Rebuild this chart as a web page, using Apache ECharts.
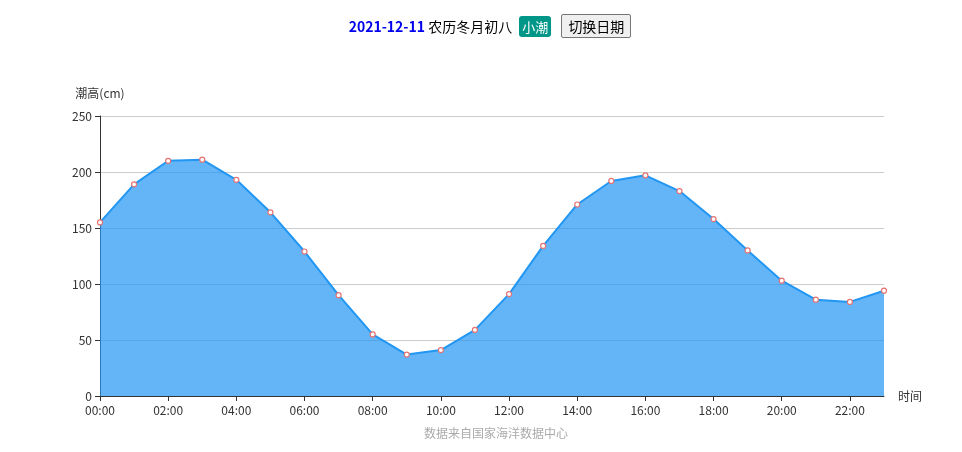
<!DOCTYPE html>
<html><head><meta charset="utf-8">
<script src="https://cdn.jsdelivr.net/npm/echarts@6/dist/echarts.min.js"></script>
<style>
html,body{margin:0;padding:0;background:#fff;}
#wrap{position:relative;width:962px;height:452px;}
#chart{position:absolute;left:0;top:0;width:962px;height:452px;}
#hdr{position:absolute;left:0;top:14px;width:980px;text-align:center;font-family:"Microsoft YaHei","Noto Sans CJK SC",sans-serif;font-size:14px;color:#000;z-index:2;line-height:22px;}
#hdr .d{color:#0000ee;font-weight:bold;}
#hdr .b{background:#009688;color:#fff;padding:1px 3px;border-radius:3px;margin-left:4px;font-size:13px;}
#hdr button{font-family:inherit;font-size:14px;margin-left:10px;padding:1px 6px;border:1px solid #767676;border-radius:2px;background:#efefef;}
</style></head>
<body><div id="wrap">
<div id="hdr"><span class="d">2021-12-11</span> 农历冬月初八 <span class="b">小潮</span><button>切换日期</button></div>
<div id="chart"></div></div>
<script>
var hours = ["00:00","01:00","02:00","03:00","04:00","05:00","06:00","07:00","08:00","09:00","10:00","11:00","12:00","13:00","14:00","15:00","16:00","17:00","18:00","19:00","20:00","21:00","22:00","23:00"];
var tide = [155,189,210,211,193,164,129,90,55,37,41,59,91,134,171,192,197,183,158,130,103,86,84,94];

var chart = echarts.init(document.getElementById('chart'));
chart.setOption({
  animation:false,
  textStyle:{fontFamily:'"Microsoft YaHei","Noto Sans CJK SC",sans-serif'},
  grid:{left:100,right:78,top:116,bottom:56},
  title:{text:'数据来自国家海洋数据中心',left:491,textAlign:'center',bottom:8,
    textStyle:{fontSize:12,color:'#aaa',fontWeight:'normal'}},
  xAxis:{type:'category',data:hours,boundaryGap:false,name:'时间',nameGap:14,
    nameTextStyle:{color:'#333',fontSize:12,verticalAlign:'middle'},
    axisLine:{lineStyle:{color:'#333'}},
    axisTick:{alignWithLabel:true,interval:1},
    axisLabel:{color:'#333',fontSize:12,interval:1,margin:8}},
  yAxis:{type:'value',min:0,max:250,interval:50,name:'潮高(cm)',
    nameTextStyle:{color:'#333',fontSize:12,align:'center',padding:[0,0,2,0]},
    axisLine:{show:true,lineStyle:{color:'#333'}},
    axisTick:{show:true},
    axisLabel:{color:'#333',fontSize:12},
    splitLine:{lineStyle:{color:'#ccc'}}},
  series:[{type:'line',data:tide,smooth:false,symbol:'circle',symbolSize:5,
    lineStyle:{color:'#2196f3',width:2},
    itemStyle:{color:'#fff',borderColor:'#e57373',borderWidth:1.2},
    areaStyle:{color:'#2196f3',opacity:0.7}}]
});
</script></body></html>
